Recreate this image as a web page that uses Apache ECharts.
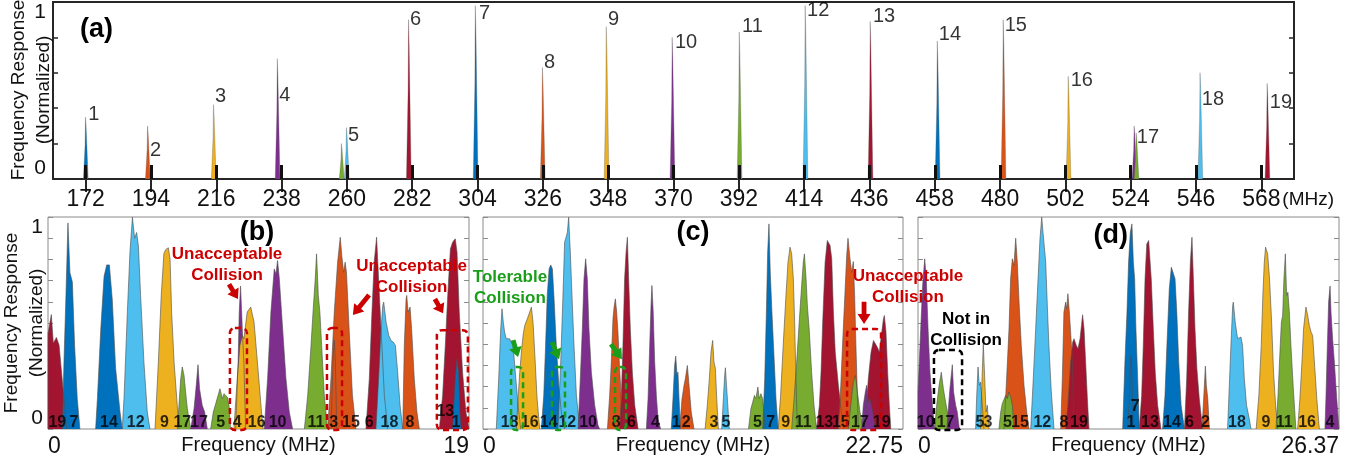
<!DOCTYPE html>
<html><head><meta charset="utf-8">
<script src="https://cdn.jsdelivr.net/npm/echarts@6/dist/echarts.min.js"></script>
<style>html,body{margin:0;padding:0;background:#fff}#c{width:1364px;height:461px}</style>
</head><body><div id="c"></div>
<script>
// ---------- DATA ----------
const aTicks = [172,194,216,238,260,282,304,326,348,370,392,414,436,458,480,502,524,546,568];
const aSpikeFreq   = [172.0,192.9,215.1,236.6,258.2,259.9,280.8,303.3,325.9,347.4,369.6,392.2,414.4,436.3,458.9,481.1,503.0,525.2,525.9,547.4,570.0];
const aSpikeHeight = [0.35,0.30,0.42,0.68,0.20,0.29,0.90,0.98,0.63,0.86,0.80,0.83,0.98,0.89,0.78,0.90,0.58,0.30,0.26,0.60,0.54];
const aSpikeColor  = ['b','o','y','p','g','l','r','b','o','y','p','g','l','r','b','o','y','p','g','l','r'];
const aLabelText  = ['1','2','3','4','5','6','7','8','9','10','11','12','13','14','15','16','17','18','19'];
const aLabelFreq  = [172.7,193.5,215.4,237.0,260.2,281.1,304.3,326.2,347.8,370.3,392.9,414.8,437.0,459.2,481.4,503.6,525.9,547.8,570.7];
const aLabelValue = [0.365,0.163,0.466,0.472,0.247,0.904,0.933,0.657,0.899,0.77,0.86,0.95,0.92,0.815,0.87,0.556,0.236,0.449,0.433];

const bPeaks = [
 ['19','r',[[0,0],[0,0.5],[0.15,0.60],[0.24,0.45],[0.38,0.48],[0.50,0.44],[0.72,0.16],[0.84,0]]],
 ['7','b',[[0.65,0],[0.72,0.35],[0.81,0.70],[0.90,1.08],[0.99,0.82],[1.10,0.77],[1.20,0.44],[1.32,0.16],[1.44,0]]],
 ['14','b',[[2.15,0],[2.23,0.16],[2.38,0.52],[2.53,0.80],[2.65,0.86],[2.77,0.86],[2.90,0.68],[3.05,0.32],[3.25,0.09],[3.35,0]]],
 ['12','l',[[3.35,0],[3.43,0.16],[3.58,0.61],[3.70,0.93],[3.81,1.11],[3.91,1.0],[4.00,1.03],[4.08,0.96],[4.18,0.70],[4.33,0.35],[4.48,0.09],[4.60,0]]],
 ['9','y',[[4.83,0],[4.98,0.35],[5.11,0.70],[5.23,0.92],[5.31,0.94],[5.43,0.95],[5.51,0.89],[5.58,0.61],[5.69,0.35],[5.81,0.16],[5.91,0]]],
 ['17','g',[[5.84,0],[5.91,0.124],[5.99,0.264],[6.06,0.325],[6.14,0.281],[6.21,0.194],[6.29,0.106],[6.44,0]]],
 ['17','p',[[6.44,0],[6.59,0.106],[6.69,0.229],[6.77,0.337],[6.84,0.211],[6.96,0.124],[7.07,0.089],[7.19,0]]],
 ['5','g',[[7.34,0],[7.46,0.089],[7.57,0.133],[7.64,0.124],[7.76,0.211],[7.87,0.159],[7.94,0.185],[8.02,0.194],[8.09,0.168],[8.17,0.124],[8.24,0]]],
 ['4','p',[[8.47,0],[8.58,0.351],[8.63,0.613],[8.69,0.749],[8.74,0.613],[8.78,0.490],[8.84,0.351],[8.92,0]]],
 ['16','y',[[8.39,0],[8.54,0.264],[8.66,0.438],[8.77,0.490],[8.84,0.473],[8.99,0.613],[9.15,0.639],[9.30,0.56],[9.45,0.351],[9.70,0]]],
 ['10','p',[[9.76,0],[9.91,0.264],[10.06,0.613],[10.21,0.839],[10.29,0.813],[10.36,0.883],[10.44,0.787],[10.59,0.525],[10.74,0.264],[10.89,0.089],[11.04,0]]],
 ['11','g',[[11.57,0],[11.72,0.176],[11.87,0.438],[11.97,0.630],[12.06,0.787],[12.12,0.918],[12.20,0.700],[12.27,0.613],[12.35,0.438],[12.47,0.176],[12.62,0]]],
 ['3','y',[[12.77,0],[12.88,0.403],[12.92,0.464],[12.97,0.351],[13.03,0]]],
 ['15','o',[[12.62,0],[12.77,0.264],[12.92,0.613],[13.07,0.874],[13.19,1.005],[13.26,0.909],[13.34,0.822],[13.41,0.874],[13.47,0.822],[13.59,0.525],[13.74,0.176],[13.90,0]]],
 ['6','r',[[14.35,0],[14.50,0.264],[14.62,0.613],[14.72,0.874],[14.83,1.005],[14.92,0.787],[15.03,0.525],[15.18,0.176],[15.33,0]]],
 ['18','l',[[14.80,0],[14.92,0.264],[15.03,0.525],[15.11,0.647],[15.15,0.665],[15.26,0.560],[15.38,0.490],[15.48,0.464],[15.59,0.455],[15.68,0.438],[15.78,0.298],[15.89,0.124],[16.01,0]]],
 ['8','o',[[16.01,0],[16.08,0.438],[16.16,0.682],[16.19,0.700],[16.25,0.613],[16.34,0.639],[16.41,0.525],[16.53,0.264],[16.65,0.089],[16.76,0]]],
 ['13','r',[[17.66,0],[17.81,0.176],[17.93,0.438],[18.04,0.700],[18.16,0.944],[18.26,0.979],[18.38,0.997],[18.46,0.927],[18.56,0.613],[18.71,0.298],[18.86,0.089],[19.0,0]]],
 ['1','b',[[18.26,0],[18.38,0.264],[18.46,0.368],[18.53,0.298],[18.59,0.089],[18.64,0]]]
];
const bLabels = [['19',0.42,0.035],['7',1.17,0.035],['14',2.75,0.035],['12',3.96,0.035],['9',5.26,0.035],['17',6.06,0.035],['17',6.81,0.035],['5',7.79,0.035],['4',8.54,0.035],['16',9.42,0.035],['10',10.36,0.035],['11',12.09,0.035],['3',12.89,0.035],['15',13.67,0.035],['6',14.50,0.035],['18',15.41,0.035],['8',16.34,0.035],['13',17.93,0.09],['1',18.41,0.035]];

const cPeaks = [
 ['18','l',[[0.72,0],[0.85,0.264],[0.96,0.525],[1.03,0.63],[1.10,0.56],[1.17,0.508],[1.26,0.473],[1.35,0.464],[1.44,0.473],[1.53,0.455],[1.63,0.438],[1.75,0.298],[1.90,0.124],[2.04,0]]],
 ['16','y',[[1.81,0],[1.90,0.159],[1.99,0.298],[2.08,0.403],[2.17,0.490],[2.26,0.543],[2.40,0.578],[2.53,0.613],[2.62,0.639],[2.71,0.560],[2.80,0.403],[2.93,0.159],[3.07,0]]],
 ['14','b',[[3.16,0],[3.29,0.176],[3.39,0.438],[3.48,0.70],[3.58,0.839],[3.67,0.860],[3.76,0.839],[3.85,0.682],[3.97,0.438],[4.12,0.211],[4.28,0.054],[4.42,0]]],
 ['12','l',[[4.06,0],[4.21,0.351],[4.33,0.70],[4.42,0.979],[4.50,1.005],[4.57,1.031],[4.64,1.11],[4.73,0.927],[4.82,0.70],[4.93,0.438],[5.06,0.176],[5.24,0]]],
 ['10','p',[[5.15,0],[5.27,0.264],[5.38,0.525],[5.47,0.787],[5.56,0.892],[5.65,0.787],[5.74,0.525],[5.87,0.298],[6.05,0.124],[6.23,0.019],[6.32,0]]],
 ['8','o',[[6.74,0],[6.86,0.176],[6.95,0.351],[7.04,0.578],[7.10,0.639],[7.17,0.682],[7.24,0.613],[7.31,0.508],[7.40,0.316],[7.49,0.159],[7.62,0.054],[7.67,0]]],
 ['6','r',[[7.40,0],[7.49,0.159],[7.58,0.438],[7.67,0.787],[7.75,0.927],[7.82,1.005],[7.89,0.787],[7.98,0.525],[8.09,0.298],[8.22,0.124],[8.40,0]]],
 ['4','p',[[8.85,0],[8.94,0.159],[9.03,0.438],[9.10,0.647],[9.15,0.752],[9.22,0.613],[9.30,0.351],[9.39,0.176],[9.48,0.054],[9.62,0]]],
 ['1','b',[[10.20,0],[10.29,0.159],[10.38,0.333],[10.44,0.382],[10.51,0.281],[10.56,0.298],[10.62,0.159],[10.69,0]]],
 ['2','o',[[10.65,0],[10.78,0.159],[10.89,0.229],[10.96,0.264],[11.07,0.333],[11.16,0.229],[11.28,0.089],[11.43,0]]],
 ['3','y',[[12.03,0],[12.15,0.124],[12.26,0.264],[12.35,0.403],[12.44,0.464],[12.51,0.351],[12.59,0.316],[12.66,0.159],[12.75,0]]],
 ['5','l',[[12.93,0],[13.02,0.159],[13.09,0.281],[13.13,0.321],[13.19,0.229],[13.26,0.124],[13.34,0]]],
 ['5','g',[[14.38,0],[14.51,0.106],[14.61,0.141],[14.70,0.176],[14.78,0.159],[14.89,0.220],[14.96,0.159],[15.05,0.185],[15.15,0.159],[15.28,0]]],
 ['7','b',[[15.15,0],[15.26,0.264],[15.35,0.613],[15.42,0.927],[15.49,1.075],[15.56,0.822],[15.65,0.613],[15.76,0.386],[15.87,0.159],[15.99,0]]],
 ['9','y',[[15.99,0],[16.12,0.176],[16.26,0.438],[16.41,0.700],[16.52,0.874],[16.63,0.953],[16.72,0.918],[16.81,0.787],[16.88,0.560],[16.95,0.264],[17.03,0]]],
 ['11','g',[[16.72,0],[16.85,0.159],[16.99,0.351],[17.14,0.578],[17.26,0.752],[17.35,0.874],[17.41,0.918],[17.50,0.787],[17.57,0.647],[17.68,0.508],[17.80,0.298],[17.93,0.124],[18.07,0]]],
 ['13','r',[[18.07,0],[18.22,0.124],[18.31,0.298],[18.40,0.560],[18.53,0.874],[18.65,0.988],[18.80,0.962],[18.89,0.892],[18.98,0.613],[19.08,0.403],[19.25,0.229],[19.43,0.072],[19.55,0]]],
 ['15','o',[[19.25,0],[19.38,0.229],[19.49,0.473],[19.60,0.700],[19.70,0.909],[19.77,1.0],[19.88,0.892],[19.97,0.822],[20.06,0.878],[20.13,0.700],[20.20,0.438],[20.33,0]]],
 ['17','g',[[19.79,0],[19.92,0.124],[20.06,0.246],[20.17,0.281],[20.28,0.194],[20.42,0.089],[20.57,0.019],[20.69,0]]],
 ['19','r',[[20.60,0],[20.75,0.089],[20.87,0.264],[21.02,0.403],[21.15,0.464],[21.24,0.473],[21.36,0.429],[21.47,0.403],[21.60,0.508],[21.69,0.578],[21.74,0.595],[21.83,0.508],[21.92,0.298],[22.01,0.124],[22.09,0]]],
 ['17','p',[[20.51,0],[20.60,0.124],[20.71,0.194],[20.78,0.229],[20.87,0.141],[20.96,0.159],[21.11,0.089],[21.24,0]]]
];
const cLabels = [['18',1.44,0.035],['16',2.53,0.035],['14',3.56,0.035],['12',4.57,0.035],['10',5.69,0.035],['8',7.22,0.035],['6',8.04,0.035],['4',9.34,0.035],['1',10.47,0.035],['2',11.01,0.035],['3',12.51,0.035],['5',13.16,0.035],['5',14.86,0.035],['7',15.58,0.035],['9',16.40,0.035],['11',17.35,0.035],['13',18.49,0.035],['15',19.38,0.035],['17',20.42,0.035],['19',21.60,0.035]];

const dPeaks = [
 ['10','p',[[0,0],[0,0.19],[0.17,0.525],[0.29,0.752],[0.42,0.892],[0.52,0.787],[0.63,0.525],[0.75,0.298],[0.90,0.124],[1.04,0]]],
 ['17','g',[[1.04,0],[1.17,0.124],[1.32,0.229],[1.46,0.298],[1.59,0.211],[1.73,0.141],[1.84,0.089],[1.96,0]]],
 ['17','p',[[1.80,0],[1.90,0.106],[2.00,0.211],[2.15,0.337],[2.23,0.194],[2.36,0.124],[2.46,0.089],[2.59,0]]],
 ['5','l',[[3.61,0],[3.67,0.159],[3.76,0.325],[3.84,0.229],[3.92,0.246],[4.03,0.124],[4.13,0]]],
 ['3','y',[[3.92,0],[4.01,0.264],[4.09,0.447],[4.18,0.264],[4.26,0.089],[4.34,0.124],[4.45,0]]],
 ['15','o',[[5.39,0],[5.55,0.264],[5.70,0.525],[5.80,0.787],[5.91,0.892],[6.01,0.857],[6.12,1.0],[6.22,0.874],[6.33,0.665],[6.47,0.438],[6.64,0.229],[6.81,0.089],[6.95,0]]],
 ['5','g',[[5.07,0],[5.18,0.089],[5.28,0.133],[5.39,0.141],[5.49,0.176],[5.60,0.159],[5.70,0.194],[5.80,0.168],[5.91,0.124],[6.01,0]]],
 ['12','l',[[7.06,0],[7.22,0.264],[7.37,0.525],[7.52,0.787],[7.64,0.997],[7.75,1.11],[7.83,1.031],[7.89,1.023],[8.00,0.874],[8.10,0.647],[8.20,0.438],[8.35,0.194],[8.52,0]]],
 ['8','o',[[8.94,0],[9.04,0.264],[9.14,0.613],[9.25,0.665],[9.31,0.630],[9.39,0.709],[9.48,0.613],[9.56,0.508],[9.67,0.351],[9.77,0]]],
 ['19','r',[[9.25,0],[9.39,0.124],[9.56,0.351],[9.69,0.455],[9.77,0.473],[9.92,0.438],[10.02,0.421],[10.15,0.473],[10.31,0.599],[10.40,0.525],[10.50,0.351],[10.61,0.159],[10.71,0]]],
 ['7','b',[[12.82,0],[12.96,0.351],[13.09,0.613],[13.19,0.874],[13.30,1.031],[13.40,1.075],[13.49,0.874],[13.57,0.787],[13.65,0.525],[13.76,0.264],[13.86,0]]],
 ['1','b',[[13.13,0],[13.24,0.159],[13.34,0.386],[13.40,0.264],[13.49,0]]],
 ['13','r',[[13.86,0],[14.01,0.176],[14.11,0.438],[14.22,0.787],[14.33,0.970],[14.45,0.988],[14.53,0.997],[14.61,0.787],[14.74,0.525],[14.86,0.298],[15.01,0.124],[15.22,0]]],
 ['14','b',[[15.32,0],[15.47,0.176],[15.59,0.438],[15.74,0.735],[15.87,0.848],[15.99,0.857],[16.10,0.787],[16.21,0.613],[16.33,0.351],[16.48,0.124],[16.69,0]]],
 ['6','r',[[16.69,0],[16.83,0.264],[16.95,0.613],[17.06,0.874],[17.16,1.005],[17.25,0.787],[17.35,0.525],[17.47,0.316],[17.62,0.159],[17.83,0]]],
 ['2','o',[[17.79,0],[17.87,0.124],[17.96,0.264],[18.00,0.330],[18.06,0.229],[18.15,0.159],[18.25,0]]],
 ['18','l',[[19.39,0],[19.50,0.229],[19.60,0.438],[19.71,0.647],[19.75,0.665],[19.87,0.560],[20.02,0.473],[20.12,0.464],[20.23,0.482],[20.33,0.438],[20.44,0.264],[20.58,0.124],[20.75,0.054],[20.86,0]]],
 ['9','y',[[21.18,0],[21.35,0.176],[21.50,0.438],[21.60,0.700],[21.69,0.874],[21.77,0.953],[21.90,0.918],[22.02,0.787],[22.15,0.560],[22.27,0.298],[22.40,0.124],[22.53,0]]],
 ['11','g',[[22.42,0],[22.55,0.176],[22.67,0.403],[22.76,0.560],[22.84,0.595],[22.92,0.787],[23.01,0.918],[23.09,0.700],[23.17,0.717],[23.26,0.613],[23.36,0.438],[23.51,0.211],[23.67,0]]],
 ['16','y',[[23.78,0],[23.92,0.159],[24.05,0.351],[24.15,0.525],[24.30,0.639],[24.41,0.595],[24.51,0.543],[24.62,0.508],[24.72,0.490],[24.83,0.351],[24.98,0.159],[25.14,0]]],
 ['4','p',[[25.49,0],[25.55,0.159],[25.64,0.438],[25.72,0.665],[25.81,0.749],[25.87,0.613],[25.97,0.473],[26.08,0.351],[26.23,0.159],[26.37,0]]]
];
const dLabels = [['10',0.48,0.035],['17',1.73,0.035],['5',3.88,0.035],['3',4.38,0.035],['5',5.60,0.035],['15',6.39,0.035],['12',7.79,0.035],['8',9.14,0.035],['19',10.08,0.035],['1',13.34,0.035],['7',13.61,0.12],['13',14.53,0.035],['14',15.91,0.035],['6',17.00,0.035],['2',18.0,0.035],['18',19.98,0.035],['9',21.79,0.035],['11',22.94,0.035],['16',24.37,0.035],['4',25.81,0.035]];

const panelMax = [19, 22.75, 26.37];
const panelTags = [[0,'(a)',175.65,0.847],[1,'(b)',9.43,1.03],[2,'(c)',11.38,1.03],[3,'(d)',12.08,1.016]];
const notes = [[1,'Unacceptable\nCollision',8.08,0.861,'red'],[1,'Unacceptable\nCollision',16.41,0.796,'red'],[2,'Tolerable\nCollision',1.46,0.741,'green'],[2,'Unacceptable\nCollision',23.02,0.746,'red'],[3,'Not in\nCollision',3.01,0.521,'black']];
const arrows = [[1,8.17,0.759,8.57,0.681,'red'],[1,14.49,0.702,13.76,0.597,'red'],[1,17.46,0.681,17.83,0.607,'red'],[2,1.63,0.466,1.90,0.377,'green'],[2,3.74,0.455,4.12,0.366,'green'],[2,6.93,0.445,7.53,0.366,'green'],[2,20.64,0.667,20.64,0.550,'red']];
const boxes = [[1,8.21,8.98,0.529,'red'],[1,12.59,13.27,0.529,'red'],[1,17.55,18.95,0.518,'red'],[2,1.52,2.17,0.325,'green'],[2,3.74,4.44,0.325,'green'],[2,7.15,7.75,0.325,'green'],[2,19.72,21.56,0.524,'red'],[3,1.00,2.76,0.414,'black']];

// ---------- STYLE ----------
const FONT = "'Liberation Sans', Arial, Helvetica, sans-serif";
const COLORS = {b:'#0072BD', o:'#D95319', y:'#EDB120', p:'#7E2F8E', g:'#77AC30', l:'#4DBEEE', r:'#A2142F'};
const NOTE = {red:'#CC0000', green:'#1A9E1A', black:'#000000'};
const LOW_TOP = 217, LOW_H = 212;
const lowGrids = [{left:48,width:421},{left:483,width:420},{left:918,width:421}];
const lowY = 10/9, lowStep = 1/9;

const grids = [{left:53, top:2, width:1241, height:177, show:true, borderColor:'#262626', borderWidth:2, backgroundColor:'transparent', containLabel:false, outerBoundsMode:'none'}]
  .concat(lowGrids.map(g => ({left:g.left, top:LOW_TOP, width:g.width, height:LOW_H, show:true, borderColor:'#8a8a8a', borderWidth:1, backgroundColor:'transparent', containLabel:false, outerBoundsMode:'none'})));

const xAxes = [
  {gridIndex:0, type:'value', position:'bottom', min:161, max:579, z:10,
   axisLine:{show:false}, splitLine:{show:false},
   axisTick:{show:true, inside:true, length:14, customValues:aTicks, lineStyle:{color:'#111', width:3}},
   axisLabel:{customValues:aTicks, fontSize:23, margin:9, color:'#111', fontFamily:FONT}},
  {gridIndex:0, type:'value', position:'top', min:161, max:579, z:10,
   axisLine:{show:false}, splitLine:{show:false},
   axisTick:{show:true, inside:true, length:13, customValues:aTicks, lineStyle:{color:'#262626', width:2}},
   axisLabel:{show:false}}
];
panelMax.forEach((mx, i) => {
  xAxes.push({gridIndex:i+1, type:'value', position:'bottom', min:0, max:mx,
    axisLine:{show:false}, splitLine:{show:false}, axisTick:{show:false},
    axisLabel:{customValues:[0, mx], fontSize:23, margin:6, color:'#111', fontFamily:FONT,
      alignMinLabel:'left', alignMaxLabel:'right', formatter: v => String(v)},
    name:'Frequency (MHz)', nameLocation:'middle', nameGap:6, nameMoveOverlap:false,
    nameTextStyle:{fontSize:20, color:'#111', fontFamily:FONT, verticalAlign:'top'}});
});

const yAxes = [
  {gridIndex:0, type:'value', min:0, max:1, interval:0.2, position:'left',
   axisLine:{show:false}, splitLine:{show:false},
   axisTick:{show:true, inside:true, length:5, lineStyle:{color:'#262626', width:1.5}},
   axisLabel:{customValues:[0], verticalAlign:'bottom', fontSize:21, margin:7, color:'#111', fontFamily:FONT}},
  {gridIndex:0, type:'value', min:0, max:1, interval:0.2, position:'left',
   axisLine:{show:false}, splitLine:{show:false}, axisTick:{show:false},
   axisLabel:{customValues:[1], verticalAlign:'top', fontSize:21, margin:7, color:'#111', fontFamily:FONT}},
  {gridIndex:0, type:'value', min:0, max:1, interval:0.2, position:'right',
   axisLine:{show:false}, splitLine:{show:false},
   axisTick:{show:true, inside:true, length:5, lineStyle:{color:'#262626', width:1.5}},
   axisLabel:{show:false}}
];
const lowYIndex = [];
[0,1,2].forEach(i => {
  lowYIndex.push(yAxes.length);
  yAxes.push({gridIndex:i+1, type:'value', min:0, max:lowY, interval:lowStep, position:'left',
    axisLine:{show:false}, splitLine:{show:false},
    axisTick:{show:true, inside:true, length:5, lineStyle:{color:'#8a8a8a', width:1}},
    axisLabel: i === 0 ? {customValues:[0,1], verticalAlign:'bottom', fontSize:21, margin:5, color:'#111', fontFamily:FONT, formatter: v => String(Math.round(v))} : {show:false}});
  yAxes.push({gridIndex:i+1, type:'value', min:0, max:lowY, interval:lowStep, position:'right',
    axisLine:{show:false}, splitLine:{show:false},
    axisTick:{show:true, inside:true, length:5, lineStyle:{color:'#8a8a8a', width:1}},
    axisLabel:{show:false}});
});

const series = [];
// (a) spikes
series.push({type:'custom', xAxisIndex:0, yAxisIndex:0, clip:true, silent:true, animation:false,
  data: aSpikeFreq.map((f, i) => [f, aSpikeHeight[i], i]),
  renderItem: (params, api) => {
    const f = api.value(0), h = api.value(1), i = api.value(2);
    const pts = [[f-0.75,0],[f-0.2,h*0.55],[f-0.05,h],[f+0.15,h*0.85],[f+0.85,0]].map(p => api.coord(p));
    return {type:'polygon', shape:{points:pts}, style:{fill:COLORS[aSpikeColor[i]], stroke:'#555', lineWidth:0.3}};
  }});
series.push({type:'scatter', xAxisIndex:0, yAxisIndex:0, symbolSize:1, itemStyle:{color:'transparent'}, silent:true, animation:false, z:5,
  data: aLabelText.map((t, i) => ({name:t, value:[aLabelFreq[i], aLabelValue[i]]})),
  label:{show:true, position:'right', distance:0, formatter:'{b}', fontSize:20, color:'#000', fontFamily:FONT}});

function addPanel(peaks, labels, gi) {
  const xi = gi + 1, yi = lowYIndex[gi - 1];
  peaks.forEach(([ch, c, pts]) => {
    series.push({type:'line', name:'Ch ' + ch, xAxisIndex:xi, yAxisIndex:yi, data:pts, symbol:'none', showSymbol:false,
      silent:true, animation:false, lineStyle:{color:'#4d4d4d', width:0.6}, areaStyle:{color:COLORS[c], opacity:1}});
  });
  series.push({type:'scatter', xAxisIndex:xi, yAxisIndex:yi, symbolSize:1, itemStyle:{color:'transparent'}, silent:true, animation:false, z:5,
    data: labels.map(([t, f, v]) => ({name:t, value:[f, v]})),
    label:{show:true, position:'inside', formatter:'{b}', fontSize:16, fontWeight:'bold', color:'#000', fontFamily:FONT}});
}
addPanel(bPeaks, bLabels, 1);
addPanel(cPeaks, cLabels, 2);
addPanel(dPeaks, dLabels, 3);

const chart = echarts.init(document.getElementById('c'), null, {renderer:'canvas'});
chart.setOption({animation:false, backgroundColor:'#fff', grid:grids, xAxis:xAxes, yAxis:yAxes, series:series});

// ---------- ANNOTATIONS ----------
const px = (g, f, v) => chart.convertToPixel({gridIndex:g}, [f, v]);
const graphics = [];
function yName(cx, cy) {
  graphics.push({type:'text', x:cx, y:cy, rotation:Math.PI/2, z:50,
    style:{text:'Frequency Response\n(Normalized)', fontSize:19, lineHeight:25, fontFamily:FONT, fill:'#111', align:'center', verticalAlign:'middle'}});
}
yName(31, 90);
yName(24, 323);
const lastTick = px(0, aTicks[aTicks.length-1], 0);
graphics.push({type:'text', x:lastTick[0] + 21, y:lastTick[1] + 21, z:50,
  style:{text:'(MHz)', fontSize:19, fontFamily:FONT, fill:'#111', align:'left', verticalAlign:'middle'}});
panelTags.forEach(([g, t, f, v]) => {
  const p = px(g, f, v);
  graphics.push({type:'text', x:p[0], y:p[1], z:50, style:{text:t, fontSize:27, fontWeight:'bold', fontFamily:FONT, fill:'#000', align:'center', verticalAlign:'middle'}});
});
notes.forEach(([g, t, f, v, c]) => {
  const p = px(g, f, v);
  graphics.push({type:'text', x:p[0], y:p[1], z:50, style:{text:t, fontSize:17, lineHeight:21, fontWeight:'bold', fontFamily:FONT, fill:NOTE[c], align:'center', verticalAlign:'middle'}});
});
boxes.forEach(([g, f1, f2, vt, c]) => {
  const a = px(g, f1, vt), b = px(g, f2, -0.005);
  graphics.push({type:'rect', z:40, shape:{x:a[0], y:a[1], width:b[0]-a[0], height:b[1]-a[1], r:5},
    style:{fill:'none', stroke:NOTE[c], lineWidth:2.5, lineDash:[6,4]}});
});
arrows.forEach(([g, f1, v1, f2, v2, c]) => {
  const a = px(g, f1, v1), b = px(g, f2, v2);
  const dx = b[0]-a[0], dy = b[1]-a[1], len = Math.hypot(dx, dy);
  const ux = dx/len, uy = dy/len, nx = -uy, ny = ux;
  const hl = Math.min(10, len*0.55), hw = 6.5, sw = 2.4;
  const nk = [b[0]-ux*hl, b[1]-uy*hl];
  const pts = [[a[0]+nx*sw, a[1]+ny*sw],[nk[0]+nx*sw, nk[1]+ny*sw],[nk[0]+nx*hw, nk[1]+ny*hw],[b[0], b[1]],
               [nk[0]-nx*hw, nk[1]-ny*hw],[nk[0]-nx*sw, nk[1]-ny*sw],[a[0]-nx*sw, a[1]-ny*sw]];
  graphics.push({type:'polygon', z:45, shape:{points:pts}, style:{fill:NOTE[c]}});
});
chart.setOption({graphic:graphics});
</script></body></html>
